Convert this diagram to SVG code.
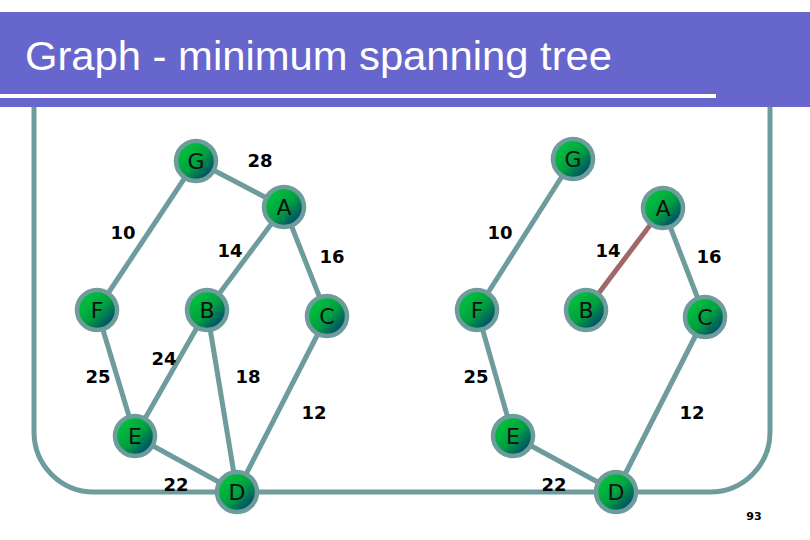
<svg xmlns="http://www.w3.org/2000/svg" width="810" height="540" viewBox="0 0 810 540">
  <defs>
    <linearGradient id="ng" x1="0.15" y1="0.15" x2="0.9" y2="0.9">
      <stop offset="0" stop-color="#00C43C"/>
      <stop offset="0.5" stop-color="#00A040"/>
      <stop offset="1" stop-color="#003A72"/>
    </linearGradient>
    <style>
      .edge { stroke: #6E9B9B; stroke-width: 5; fill: none; }
      .sel { stroke: #A06868; stroke-width: 5; fill: none; }
      .node circle { fill: url(#ng); stroke: #6E9B9B; stroke-width: 4.5; }
      .node text { font-family: "DejaVu Sans", Verdana, sans-serif; font-size: 22px; fill: #111; text-anchor: middle; }
      .lbl { font-family: "DejaVu Sans", Verdana, sans-serif; font-weight: bold; font-size: 18px; fill: #000; text-anchor: middle; }
    </style>
  </defs>
  <rect width="810" height="540" fill="#FFFFFF"/>

  <!-- frame -->
  <path id="frame" class="edge" d="M34 100 V432 A60 60 0 0 0 94 492 H710 A60 60 0 0 0 770 432 V100"/>

  <!-- title bar -->
  <g id="title">
    <rect x="0" y="12" width="810" height="95" fill="#6666CC"/>
    <rect x="0" y="94" width="716" height="4" fill="#FFFFFF"/>
    <text x="25" y="70" font-family="Liberation Sans, Arial, sans-serif" font-size="40" fill="#FFFFFF" textLength="587" lengthAdjust="spacingAndGlyphs">Graph - minimum spanning tree</text>
  </g>

  <!-- connectors -->
  <g id="connectors">
    <!-- left graph -->
    <line class="edge" x1="196" y1="161" x2="97" y2="310"/>
    <line class="edge" x1="196" y1="161" x2="284" y2="207"/>
    <line class="edge" x1="284" y1="207" x2="207" y2="310"/>
    <line class="edge" x1="284" y1="207" x2="327" y2="316"/>
    <line class="edge" x1="97" y1="310" x2="135" y2="436"/>
    <line class="edge" x1="207" y1="310" x2="135" y2="436"/>
    <line class="edge" x1="207" y1="310" x2="237" y2="492"/>
    <line class="edge" x1="327" y1="316" x2="237" y2="492"/>
    <line class="edge" x1="135" y1="436" x2="237" y2="492"/>
    <!-- right graph -->
    <line class="edge" x1="573" y1="159" x2="477" y2="310"/>
    <line class="sel" x1="663" y1="208" x2="586" y2="310"/>
    <line class="edge" x1="663" y1="208" x2="705" y2="317"/>
    <line class="edge" x1="477" y1="310" x2="513" y2="436"/>
    <line class="edge" x1="513" y1="436" x2="616" y2="492"/>
    <line class="edge" x1="705" y1="317" x2="616" y2="492"/>
  </g>

  <!-- edge labels -->
  <g id="labels">
    <text class="lbl" x="260" y="167">28</text>
    <text class="lbl" x="123" y="239">10</text>
    <text class="lbl" x="230" y="257">14</text>
    <text class="lbl" x="332" y="263">16</text>
    <text class="lbl" x="98" y="383">25</text>
    <text class="lbl" x="164" y="365">24</text>
    <text class="lbl" x="248" y="383">18</text>
    <text class="lbl" x="314" y="419">12</text>
    <text class="lbl" x="176" y="491">22</text>
    <text class="lbl" x="500" y="239">10</text>
    <text class="lbl" x="608" y="257">14</text>
    <text class="lbl" x="709" y="263">16</text>
    <text class="lbl" x="476" y="383">25</text>
    <text class="lbl" x="692" y="419">12</text>
    <text class="lbl" x="554" y="491">22</text>
    <text class="lbl" x="754" y="520" style="font-size:11px">93</text>
  </g>

  <!-- left graph nodes -->
  <g id="L-G" class="node"><circle cx="196" cy="161" r="20"/><text x="196" y="169">G</text></g>
  <g id="L-A" class="node"><circle cx="284" cy="207" r="20"/><text x="284" y="215">A</text></g>
  <g id="L-F" class="node"><circle cx="97" cy="310" r="20"/><text x="97" y="318">F</text></g>
  <g id="L-B" class="node"><circle cx="207" cy="310" r="20"/><text x="207" y="318">B</text></g>
  <g id="L-C" class="node"><circle cx="327" cy="316" r="20"/><text x="327" y="324">C</text></g>
  <g id="L-E" class="node"><circle cx="135" cy="436" r="20"/><text x="135" y="444">E</text></g>
  <g id="L-D" class="node"><circle cx="237" cy="492" r="20"/><text x="237" y="500">D</text></g>

  <!-- right graph nodes -->
  <g id="R-G" class="node"><circle cx="573" cy="159" r="20"/><text x="573" y="167">G</text></g>
  <g id="R-A" class="node"><circle cx="663" cy="208" r="20"/><text x="663" y="216">A</text></g>
  <g id="R-F" class="node"><circle cx="477" cy="310" r="20"/><text x="477" y="318">F</text></g>
  <g id="R-B" class="node"><circle cx="586" cy="310" r="20"/><text x="586" y="318">B</text></g>
  <g id="R-C" class="node"><circle cx="705" cy="317" r="20"/><text x="705" y="325">C</text></g>
  <g id="R-E" class="node"><circle cx="513" cy="436" r="20"/><text x="513" y="444">E</text></g>
  <g id="R-D" class="node"><circle cx="616" cy="492" r="20"/><text x="616" y="500">D</text></g>
</svg>
